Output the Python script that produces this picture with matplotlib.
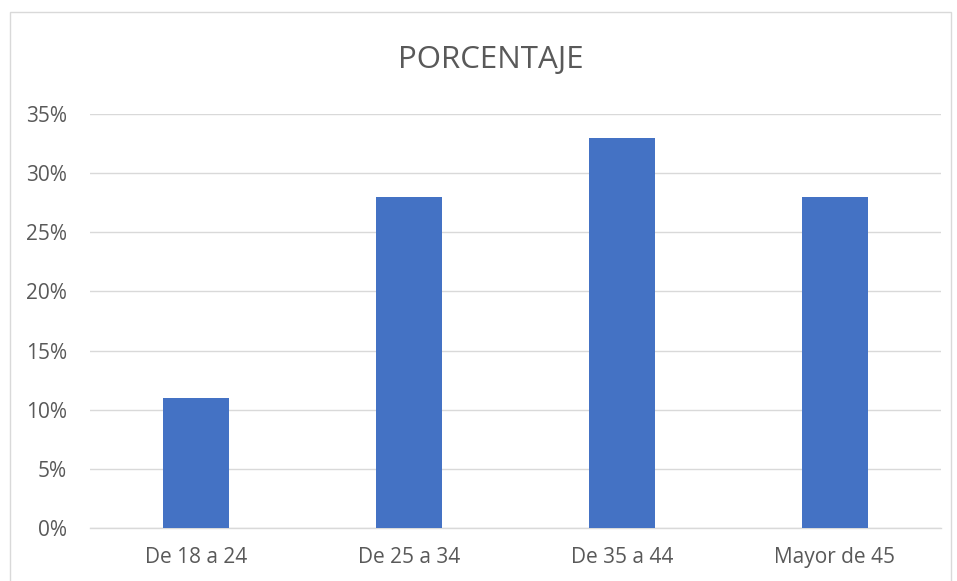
import matplotlib.pyplot as plt
from matplotlib.patches import Rectangle
from matplotlib.ticker import FuncFormatter

# datos
categorias = ['De 18 a 24', 'De 25 a 34', 'De 35 a 44', 'Mayor de 45']
porcentajes = [0.11, 0.28, 0.33, 0.28]
ticks_y = [0, 0.05, 0.10, 0.15, 0.20, 0.25, 0.30, 0.35]

plt.rcParams['font.family'] = ['Open Sans', 'DejaVu Sans']

fig = plt.figure(figsize=(9.57, 5.81), dpi=100)
ax = fig.add_axes([90/957, 1 - 528/581, (941 - 90)/957, (528 - 114)/581])

x = range(len(categorias))
ax.bar(x, porcentajes, width=0.31, color='#4472C4', zorder=3)

ax.set_xlim(-0.5, len(categorias) - 0.5)
ax.set_ylim(0, 0.35)
ax.set_yticks(ticks_y)
ax.yaxis.set_major_formatter(FuncFormatter(lambda v, p: f'{round(v*100)}%'))
ax.set_xticks(list(x))
ax.set_xticklabels(categorias)

ax.grid(axis='y', color='#D9D9D9', linewidth=1, zorder=0)
for s in ['top', 'right', 'left']:
    ax.spines[s].set_visible(False)
ax.spines['bottom'].set_color('#D9D9D9')
ax.spines['bottom'].set_linewidth(1)
ax.tick_params(axis='both', length=0, labelsize=15, labelcolor='#595959')
ax.tick_params(axis='y', pad=16.5)
ax.tick_params(axis='x', pad=14)

fig.text(491/957, 1 - 68/581, 'PORCENTAJE', ha='center', va='baseline',
         fontsize=22.5, color='#595959')

# borde del área del gráfico
fig.patches.append(Rectangle((10/957, -0.05), (951 - 10)/957, 1 - 12/581 + 0.05,
                             transform=fig.transFigure, fill=False,
                             edgecolor='#D9D9D9', linewidth=1))

fig.savefig('out.png', dpi=100, facecolor='white')
